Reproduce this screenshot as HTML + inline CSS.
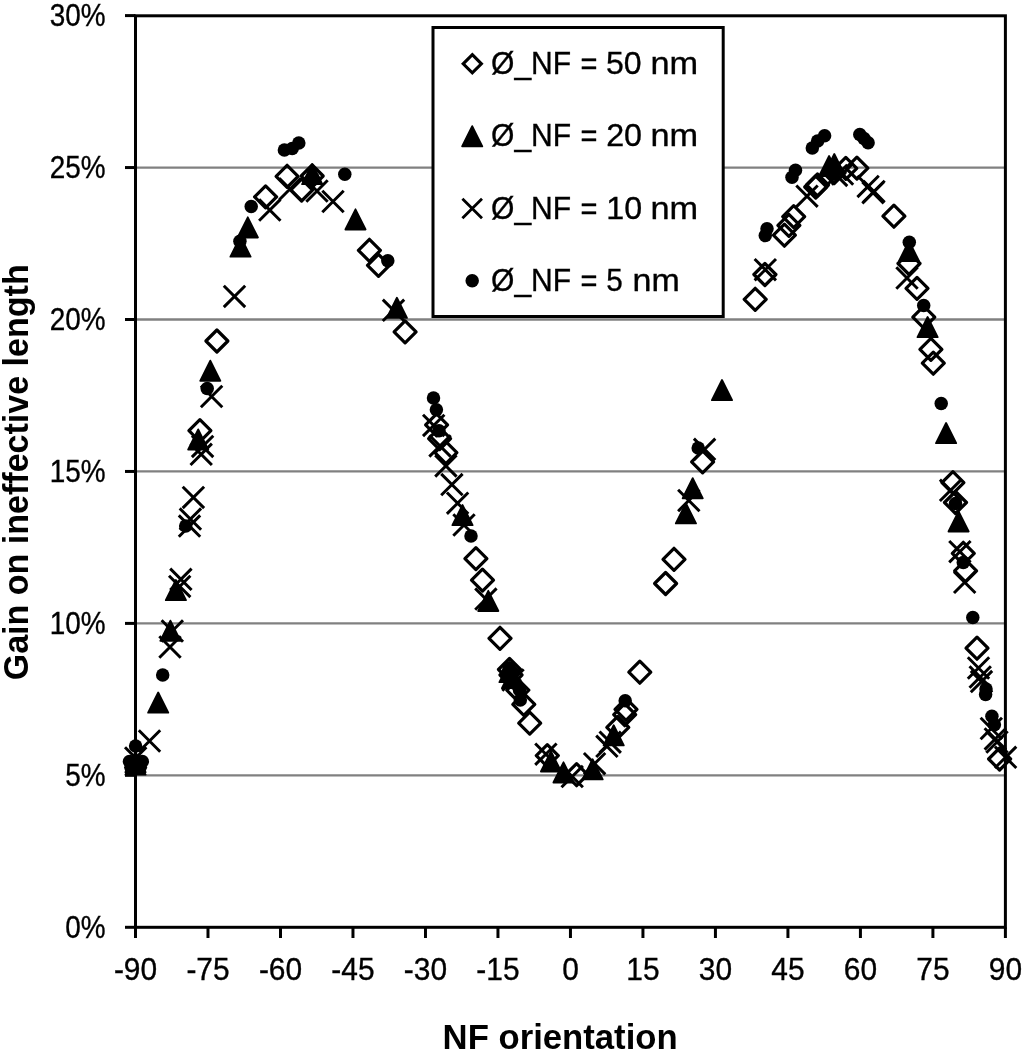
<!DOCTYPE html><html><head><meta charset="utf-8"><style>html,body{margin:0;padding:0;background:#fff;}svg{display:block;will-change:transform}text{font-family:"Liberation Sans",sans-serif;fill:#000}.r{stroke:#000;stroke-width:0.35px}</style></head><body>
<svg width="1024" height="1053" viewBox="0 0 1024 1053">
<defs><path id="d" d="M0,-11L11,0L0,11L-11,0Z" fill="none" stroke="#000" stroke-width="3.2" stroke-linejoin="round"/><path id="t" d="M0,-10L10.1,10.2L-10.1,10.2Z" fill="#000" stroke="#000" stroke-width="1.8" stroke-linejoin="round"/><path id="x" d="M-10.7,-10.7L10.7,10.7M10.7,-10.7L-10.7,10.7" stroke="#000" stroke-width="2.95" fill="none"/><circle id="o" r="6.75" fill="#000"/></defs>
<rect width="1024" height="1053" fill="#fff"/>
<line x1="135.5" x2="1005.4" y1="775.35" y2="775.35" stroke="#808080" stroke-width="2.3"/>
<line x1="135.5" x2="1005.4" y1="623.40" y2="623.40" stroke="#808080" stroke-width="2.3"/>
<line x1="135.5" x2="1005.4" y1="471.45" y2="471.45" stroke="#808080" stroke-width="2.3"/>
<line x1="135.5" x2="1005.4" y1="319.50" y2="319.50" stroke="#808080" stroke-width="2.3"/>
<line x1="135.5" x2="1005.4" y1="167.55" y2="167.55" stroke="#808080" stroke-width="2.3"/>
<rect x="135.5" y="15.8" width="869.9" height="911.5" fill="none" stroke="#000" stroke-width="3"/>
<line x1="125" x2="135.5" y1="927.30" y2="927.30" stroke="#000" stroke-width="3"/>
<line x1="125" x2="135.5" y1="775.35" y2="775.35" stroke="#000" stroke-width="3"/>
<line x1="125" x2="135.5" y1="623.40" y2="623.40" stroke="#000" stroke-width="3"/>
<line x1="125" x2="135.5" y1="471.45" y2="471.45" stroke="#000" stroke-width="3"/>
<line x1="125" x2="135.5" y1="319.50" y2="319.50" stroke="#000" stroke-width="3"/>
<line x1="125" x2="135.5" y1="167.55" y2="167.55" stroke="#000" stroke-width="3"/>
<line x1="125" x2="135.5" y1="15.60" y2="15.60" stroke="#000" stroke-width="3"/>
<line x1="135.50" x2="135.50" y1="927.3" y2="938" stroke="#000" stroke-width="3"/>
<line x1="207.99" x2="207.99" y1="927.3" y2="938" stroke="#000" stroke-width="3"/>
<line x1="280.48" x2="280.48" y1="927.3" y2="938" stroke="#000" stroke-width="3"/>
<line x1="352.97" x2="352.97" y1="927.3" y2="938" stroke="#000" stroke-width="3"/>
<line x1="425.47" x2="425.47" y1="927.3" y2="938" stroke="#000" stroke-width="3"/>
<line x1="497.96" x2="497.96" y1="927.3" y2="938" stroke="#000" stroke-width="3"/>
<line x1="570.45" x2="570.45" y1="927.3" y2="938" stroke="#000" stroke-width="3"/>
<line x1="642.94" x2="642.94" y1="927.3" y2="938" stroke="#000" stroke-width="3"/>
<line x1="715.43" x2="715.43" y1="927.3" y2="938" stroke="#000" stroke-width="3"/>
<line x1="787.93" x2="787.93" y1="927.3" y2="938" stroke="#000" stroke-width="3"/>
<line x1="860.42" x2="860.42" y1="927.3" y2="938" stroke="#000" stroke-width="3"/>
<line x1="932.91" x2="932.91" y1="927.3" y2="938" stroke="#000" stroke-width="3"/>
<line x1="1005.40" x2="1005.40" y1="927.3" y2="938" stroke="#000" stroke-width="3"/>
<text x="0" y="0" class="r" font-size="31" text-anchor="end" transform="translate(105.5,937.50) scale(0.9,1)">0%</text>
<text x="0" y="0" class="r" font-size="31" text-anchor="end" transform="translate(105.5,785.55) scale(0.9,1)">5%</text>
<text x="0" y="0" class="r" font-size="31" text-anchor="end" transform="translate(105.5,633.60) scale(0.9,1)">10%</text>
<text x="0" y="0" class="r" font-size="31" text-anchor="end" transform="translate(105.5,481.65) scale(0.9,1)">15%</text>
<text x="0" y="0" class="r" font-size="31" text-anchor="end" transform="translate(105.5,329.70) scale(0.9,1)">20%</text>
<text x="0" y="0" class="r" font-size="31" text-anchor="end" transform="translate(105.5,177.75) scale(0.9,1)">25%</text>
<text x="0" y="0" class="r" font-size="31" text-anchor="end" transform="translate(105.5,25.80) scale(0.9,1)">30%</text>
<text x="0" y="0" class="r" font-size="31" text-anchor="middle" transform="translate(135.50,979.9) scale(0.965,1)">-90</text>
<text x="0" y="0" class="r" font-size="31" text-anchor="middle" transform="translate(207.99,979.9) scale(0.965,1)">-75</text>
<text x="0" y="0" class="r" font-size="31" text-anchor="middle" transform="translate(280.48,979.9) scale(0.965,1)">-60</text>
<text x="0" y="0" class="r" font-size="31" text-anchor="middle" transform="translate(352.97,979.9) scale(0.965,1)">-45</text>
<text x="0" y="0" class="r" font-size="31" text-anchor="middle" transform="translate(425.47,979.9) scale(0.965,1)">-30</text>
<text x="0" y="0" class="r" font-size="31" text-anchor="middle" transform="translate(497.96,979.9) scale(0.965,1)">-15</text>
<text x="0" y="0" class="r" font-size="31" text-anchor="middle" transform="translate(570.45,979.9) scale(0.965,1)">0</text>
<text x="0" y="0" class="r" font-size="31" text-anchor="middle" transform="translate(642.94,979.9) scale(0.965,1)">15</text>
<text x="0" y="0" class="r" font-size="31" text-anchor="middle" transform="translate(715.43,979.9) scale(0.965,1)">30</text>
<text x="0" y="0" class="r" font-size="31" text-anchor="middle" transform="translate(787.93,979.9) scale(0.965,1)">45</text>
<text x="0" y="0" class="r" font-size="31" text-anchor="middle" transform="translate(860.42,979.9) scale(0.965,1)">60</text>
<text x="0" y="0" class="r" font-size="31" text-anchor="middle" transform="translate(932.91,979.9) scale(0.965,1)">75</text>
<text x="0" y="0" class="r" font-size="31" text-anchor="middle" transform="translate(1005.40,979.9) scale(0.965,1)">90</text>
<text x="0" y="0" font-size="34.7" font-weight="bold" transform="translate(442.6,1049.2)">NF orientation</text>
<text x="0" y="0" font-size="34.7" font-weight="bold" text-anchor="middle" transform="translate(27.6,472.3) rotate(-90) scale(0.981,1)">Gain on ineffective length</text>
<use href="#d" x="199.9" y="430.7"/>
<use href="#d" x="216.9" y="341.0"/>
<use href="#d" x="265.6" y="196.9"/>
<use href="#d" x="287.1" y="176.3"/>
<use href="#d" x="301.6" y="190.0"/>
<use href="#d" x="312.2" y="176.0"/>
<use href="#d" x="369.4" y="250.3"/>
<use href="#d" x="378.5" y="265.3"/>
<use href="#d" x="405.1" y="331.9"/>
<use href="#d" x="436.6" y="424.9"/>
<use href="#d" x="439.6" y="438.6"/>
<use href="#d" x="445.9" y="452.7"/>
<use href="#d" x="475.9" y="558.6"/>
<use href="#d" x="482.5" y="580.1"/>
<use href="#d" x="500.0" y="638.3"/>
<use href="#d" x="509.5" y="669.5"/>
<use href="#d" x="511.0" y="675.0"/>
<use href="#d" x="517.8" y="690.2"/>
<use href="#d" x="523.8" y="704.3"/>
<use href="#d" x="529.7" y="723.1"/>
<use href="#d" x="547.3" y="755.6"/>
<use href="#d" x="576.6" y="774.7"/>
<use href="#d" x="617.8" y="727.4"/>
<use href="#d" x="624.7" y="714.7"/>
<use href="#d" x="626.0" y="709.4"/>
<use href="#d" x="639.8" y="672.2"/>
<use href="#d" x="665.6" y="583.5"/>
<use href="#d" x="674.0" y="559.3"/>
<use href="#d" x="702.6" y="461.8"/>
<use href="#d" x="755.2" y="299.3"/>
<use href="#d" x="764.9" y="274.5"/>
<use href="#d" x="784.4" y="235.2"/>
<use href="#d" x="788.9" y="225.3"/>
<use href="#d" x="793.7" y="216.7"/>
<use href="#d" x="815.7" y="187.0"/>
<use href="#d" x="817.5" y="185.0"/>
<use href="#d" x="834.2" y="172.6"/>
<use href="#d" x="845.8" y="168.4"/>
<use href="#d" x="856.9" y="168.1"/>
<use href="#d" x="893.9" y="216.2"/>
<use href="#d" x="909.0" y="263.5"/>
<use href="#d" x="917.0" y="288.4"/>
<use href="#d" x="923.8" y="317.1"/>
<use href="#d" x="930.9" y="349.4"/>
<use href="#d" x="933.3" y="363.2"/>
<use href="#d" x="952.9" y="482.6"/>
<use href="#d" x="955.5" y="502.5"/>
<use href="#d" x="963.3" y="553.3"/>
<use href="#d" x="965.6" y="570.9"/>
<use href="#d" x="977.0" y="648.2"/>
<use href="#d" x="999.6" y="759.0"/>
<use href="#t" x="135.5" y="762.0"/>
<use href="#t" x="135.5" y="764.5"/>
<use href="#t" x="158.2" y="702.5"/>
<use href="#t" x="170.4" y="630.6"/>
<use href="#t" x="175.9" y="590.0"/>
<use href="#t" x="198.2" y="439.4"/>
<use href="#t" x="210.3" y="370.6"/>
<use href="#t" x="240.5" y="246.5"/>
<use href="#t" x="247.8" y="227.3"/>
<use href="#t" x="312.2" y="174.0"/>
<use href="#t" x="355.5" y="219.3"/>
<use href="#t" x="396.9" y="307.7"/>
<use href="#t" x="462.5" y="515.0"/>
<use href="#t" x="488.3" y="600.8"/>
<use href="#t" x="509.5" y="672.0"/>
<use href="#t" x="512.0" y="678.0"/>
<use href="#t" x="551.0" y="761.3"/>
<use href="#t" x="563.5" y="772.3"/>
<use href="#t" x="592.6" y="769.2"/>
<use href="#t" x="613.7" y="735.2"/>
<use href="#t" x="685.9" y="513.2"/>
<use href="#t" x="692.7" y="488.1"/>
<use href="#t" x="722.0" y="390.0"/>
<use href="#t" x="829.1" y="166.0"/>
<use href="#t" x="834.3" y="164.0"/>
<use href="#t" x="909.0" y="251.0"/>
<use href="#t" x="927.6" y="327.0"/>
<use href="#t" x="946.1" y="433.0"/>
<use href="#t" x="958.6" y="521.3"/>
<use href="#x" x="135.7" y="758.0"/>
<use href="#x" x="149.5" y="741.0"/>
<use href="#x" x="170.0" y="647.0"/>
<use href="#x" x="172.3" y="631.0"/>
<use href="#x" x="180.9" y="579.3"/>
<use href="#x" x="179.7" y="586.4"/>
<use href="#x" x="189.5" y="526.1"/>
<use href="#x" x="190.4" y="519.1"/>
<use href="#x" x="193.4" y="497.4"/>
<use href="#x" x="201.2" y="454.3"/>
<use href="#x" x="202.6" y="446.4"/>
<use href="#x" x="211.6" y="396.5"/>
<use href="#x" x="234.5" y="296.4"/>
<use href="#x" x="269.8" y="210.1"/>
<use href="#x" x="317.0" y="191.0"/>
<use href="#x" x="290.0" y="189.0"/>
<use href="#x" x="333.0" y="201.5"/>
<use href="#x" x="393.5" y="310.3"/>
<use href="#x" x="433.7" y="425.4"/>
<use href="#x" x="440.0" y="445.9"/>
<use href="#x" x="445.9" y="465.9"/>
<use href="#x" x="451.9" y="484.6"/>
<use href="#x" x="457.6" y="503.2"/>
<use href="#x" x="464.0" y="525.0"/>
<use href="#x" x="485.9" y="599.1"/>
<use href="#x" x="513.0" y="680.0"/>
<use href="#x" x="545.9" y="754.2"/>
<use href="#x" x="572.2" y="776.6"/>
<use href="#x" x="594.6" y="763.7"/>
<use href="#x" x="606.9" y="746.3"/>
<use href="#x" x="610.2" y="742.2"/>
<use href="#x" x="688.8" y="500.5"/>
<use href="#x" x="704.6" y="449.3"/>
<use href="#x" x="765.3" y="269.7"/>
<use href="#x" x="807.0" y="196.2"/>
<use href="#x" x="836.6" y="175.4"/>
<use href="#x" x="842.5" y="174.0"/>
<use href="#x" x="868.1" y="186.4"/>
<use href="#x" x="873.0" y="192.7"/>
<use href="#x" x="874.0" y="191.5"/>
<use href="#x" x="907.0" y="278.0"/>
<use href="#x" x="950.6" y="490.3"/>
<use href="#x" x="959.9" y="551.7"/>
<use href="#x" x="964.7" y="582.3"/>
<use href="#x" x="978.5" y="668.0"/>
<use href="#x" x="980.2" y="677.0"/>
<use href="#x" x="981.5" y="681.6"/>
<use href="#x" x="991.3" y="728.5"/>
<use href="#x" x="995.3" y="738.9"/>
<use href="#x" x="997.0" y="742.0"/>
<use href="#x" x="1005.6" y="757.3"/>
<use href="#o" x="135.6" y="746.0"/>
<use href="#o" x="129.5" y="761.5"/>
<use href="#o" x="142.3" y="761.5"/>
<use href="#o" x="135.5" y="767.5"/>
<use href="#o" x="131.0" y="767.5"/>
<use href="#o" x="140.0" y="767.5"/>
<use href="#o" x="162.7" y="675.0"/>
<use href="#o" x="185.7" y="526.1"/>
<use href="#o" x="207.2" y="388.5"/>
<use href="#o" x="239.9" y="241.2"/>
<use href="#o" x="251.2" y="206.4"/>
<use href="#o" x="313.5" y="179.0"/>
<use href="#o" x="284.4" y="150.0"/>
<use href="#o" x="292.2" y="148.4"/>
<use href="#o" x="298.8" y="143.0"/>
<use href="#o" x="344.8" y="174.3"/>
<use href="#o" x="387.8" y="260.8"/>
<use href="#o" x="433.5" y="398.1"/>
<use href="#o" x="436.4" y="409.8"/>
<use href="#o" x="439.0" y="430.8"/>
<use href="#o" x="471.0" y="536.0"/>
<use href="#o" x="509.0" y="668.0"/>
<use href="#o" x="512.0" y="674.0"/>
<use href="#o" x="516.0" y="684.0"/>
<use href="#o" x="519.5" y="690.0"/>
<use href="#o" x="520.3" y="700.0"/>
<use href="#o" x="625.2" y="700.8"/>
<use href="#o" x="698.2" y="448.0"/>
<use href="#o" x="765.3" y="235.5"/>
<use href="#o" x="767.0" y="228.7"/>
<use href="#o" x="792.0" y="177.3"/>
<use href="#o" x="795.5" y="170.3"/>
<use href="#o" x="812.3" y="148.1"/>
<use href="#o" x="817.6" y="141.1"/>
<use href="#o" x="824.6" y="135.8"/>
<use href="#o" x="833.0" y="174.0"/>
<use href="#o" x="859.8" y="134.5"/>
<use href="#o" x="864.0" y="138.5"/>
<use href="#o" x="868.1" y="142.8"/>
<use href="#o" x="909.3" y="242.2"/>
<use href="#o" x="923.7" y="305.5"/>
<use href="#o" x="941.2" y="403.5"/>
<use href="#o" x="955.5" y="503.5"/>
<use href="#o" x="963.3" y="562.4"/>
<use href="#o" x="972.8" y="617.5"/>
<use href="#o" x="986.0" y="688.9"/>
<use href="#o" x="985.6" y="694.6"/>
<use href="#o" x="991.9" y="716.3"/>
<use href="#o" x="994.4" y="724.8"/>
<rect x="433" y="27.5" width="290.2" height="289" fill="#fff" stroke="#000" stroke-width="3"/>
<path d="M472.3,54.699999999999996l9.1,9.1l-9.1,9.1l-9.1,-9.1z" fill="none" stroke="#000" stroke-width="3.1"/>
<text class="r" x="0" y="0" font-size="31.2" transform="translate(491.04,74.00) scale(0.9630,1)">Ø_NF</text>
<text class="r" x="0" y="0" font-size="31.2" transform="translate(580.57,74.00) scale(0.9312,1)">=</text>
<text class="r" x="0" y="0" font-size="31.2" transform="translate(605.97,74.00) scale(1.0273,1)">50</text>
<text class="r" x="0" y="0" font-size="31.2" transform="translate(650.40,74.00) scale(1.1000,1)">nm</text>
<use href="#t" x="472.2" y="136.13"/>
<text class="r" x="0" y="0" font-size="31.2" transform="translate(491.04,146.33) scale(0.9630,1)">Ø_NF</text>
<text class="r" x="0" y="0" font-size="31.2" transform="translate(580.57,146.33) scale(0.9312,1)">=</text>
<text class="r" x="0" y="0" font-size="31.2" transform="translate(606.17,146.33) scale(1.0333,1)">20</text>
<text class="r" x="0" y="0" font-size="31.2" transform="translate(650.40,146.33) scale(1.1000,1)">nm</text>
<path d="M462.4,198.66l19.6,19.6m0,-19.6l-19.6,19.6" fill="none" stroke="#000" stroke-width="2.8"/>
<text class="r" x="0" y="0" font-size="31.2" transform="translate(491.04,218.66) scale(0.9630,1)">Ø_NF</text>
<text class="r" x="0" y="0" font-size="31.2" transform="translate(580.57,218.66) scale(0.9312,1)">=</text>
<text class="r" x="0" y="0" font-size="31.2" transform="translate(606.24,218.66) scale(1.0312,1)">10</text>
<text class="r" x="0" y="0" font-size="31.2" transform="translate(650.40,218.66) scale(1.1000,1)">nm</text>
<use href="#o" x="472.2" y="280.79"/>
<text class="r" x="0" y="0" font-size="31.2" transform="translate(491.04,290.99) scale(0.9630,1)">Ø_NF</text>
<text class="r" x="0" y="0" font-size="31.2" transform="translate(580.57,290.99) scale(0.9312,1)">=</text>
<text class="r" x="0" y="0" font-size="31.2" transform="translate(606.25,290.99) scale(0.9533,1)">5</text>
<text class="r" x="0" y="0" font-size="31.2" transform="translate(632.52,290.99) scale(1.0897,1)">nm</text>
</svg></body></html>
